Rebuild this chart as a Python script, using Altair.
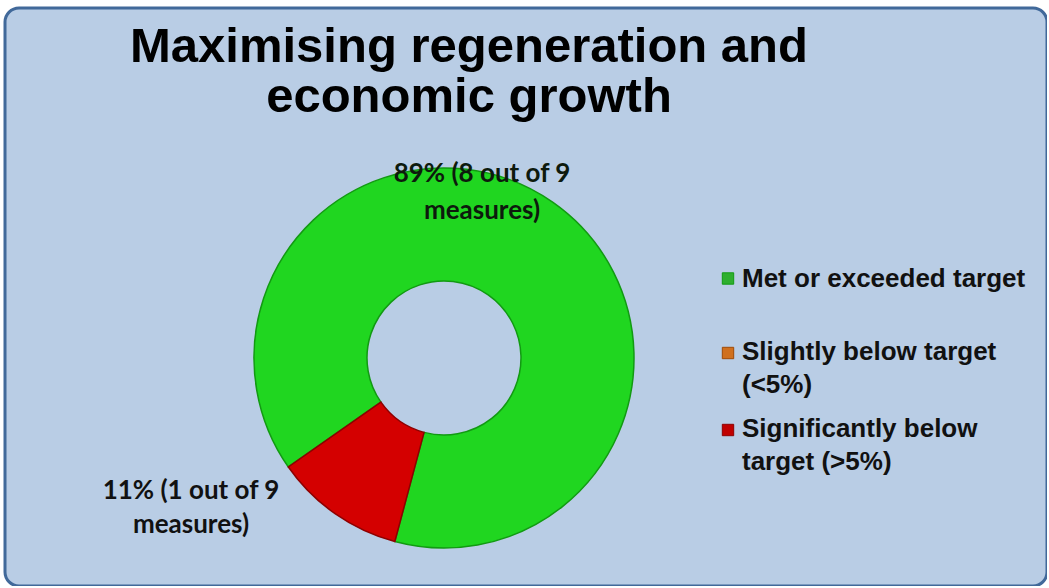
import math
import altair as alt
import pandas as pd

# ---- data ----
categories = ["Met or exceeded target", "Slightly below target (<5%)", "Significantly below target (>5%)"]
legend_labels = ["Met or exceeded target", "Slightly below target\n(<5%)", "Significantly below\ntarget (>5%)"]
measures = [8, 0, 1]
slice_colors = ["#20D620", "#E46C0A", "#D40000"]
slice_edges = ["#129A12", "#A04A05", "#8E0000"]
marker_colors = ["#2EAF2E", "#D0701E", "#C00000"]
title_lines = ["Maximising regeneration and", "economic growth"]
label_green = ["89% (8 out of 9", "measures)"]
label_red = ["11% (1 out of 9", "measures)"]

df = pd.DataFrame({
    "category": categories,
    "legend": legend_labels,
    "measures": measures,
    "order": list(range(len(categories))),
})

start = math.radians(235)

donut = alt.Chart(df).transform_filter("datum.measures > 0").mark_arc(
    innerRadius=77, outerRadius=190, strokeWidth=1.5
).encode(
    theta=alt.Theta("measures:Q", stack=True,
                    scale=alt.Scale(range=[start, start + 2 * math.pi])),
    color=alt.Color("category:N", scale=alt.Scale(domain=categories, range=slice_colors), legend=None),
    stroke=alt.Stroke("category:N", scale=alt.Scale(domain=categories, range=slice_edges), legend=None),
    order=alt.Order("order:Q"),
    x=alt.value(439),
    y=alt.value(350),
)

title_font = "Liberation Sans, Arial, sans-serif"
title_df = pd.DataFrame({"t": ["\n".join(title_lines)]})
title = alt.Chart(title_df).mark_text(
    lineBreak="\n", lineHeight=50, baseline="alphabetic", align="center",
    fontSize=49, font=title_font, fontWeight="bold", color="#000000",
).encode(text="t:N", x=alt.value(464), y=alt.value(54))

label_font = "Lato, Open Sans, sans-serif"
lab_g = alt.Chart(pd.DataFrame({"t": ["\n".join(label_green)]})).mark_text(
    lineBreak="\n", lineHeight=37, baseline="alphabetic", align="center",
    fontSize=26, font=label_font, fontWeight="bold", color="#0d1a0d",
).encode(text="t:N", x=alt.value(477), y=alt.value(174))
lab_r = alt.Chart(pd.DataFrame({"t": ["\n".join(label_red)]})).mark_text(
    lineBreak="\n", lineHeight=34, baseline="alphabetic", align="center",
    fontSize=26, font=label_font, fontWeight="bold", color="#111111",
).encode(text="t:N", x=alt.value(186), y=alt.value(491))

markers = alt.Chart(df).mark_square(size=130, opacity=1, strokeWidth=1).encode(
    x=alt.value(723),
    y=alt.Y("order:Q", scale=alt.Scale(domain=[0, 1, 2], range=[270.5, 345, 422]), axis=None),
    fill=alt.Fill("category:N", scale=alt.Scale(domain=categories, range=marker_colors), legend=None),
    stroke=alt.Stroke("category:N", scale=alt.Scale(domain=categories, range=slice_edges), legend=None),
)

leg_text = alt.Chart(df).mark_text(
    lineBreak="\n", lineHeight=33, baseline="alphabetic", align="left",
    fontSize=26, font="Liberation Sans, Arial, sans-serif", fontWeight="bold", color="#111111",
).encode(
    x=alt.value(737),
    y=alt.Y("order:Q", scale=alt.Scale(domain=[0, 1, 2], range=[279, 352, 429]), axis=None),
    text="legend:N",
)

chart = alt.layer(donut, title, lab_g, lab_r, markers, leg_text).resolve_scale(
    color="independent", fill="independent", stroke="independent", y="independent"
).properties(
    width=1042, height=578,
    padding={"left": 5, "top": 8, "right": 0, "bottom": 0},
    autosize=alt.AutoSizeParams(type="none"),
    background="white",
).configure_view(
    fill="#B9CDE5", stroke="#41699A", strokeWidth=3, cornerRadius=14
)

chart.save("out.html", embed_options={"renderer": "svg", "actions": False})
